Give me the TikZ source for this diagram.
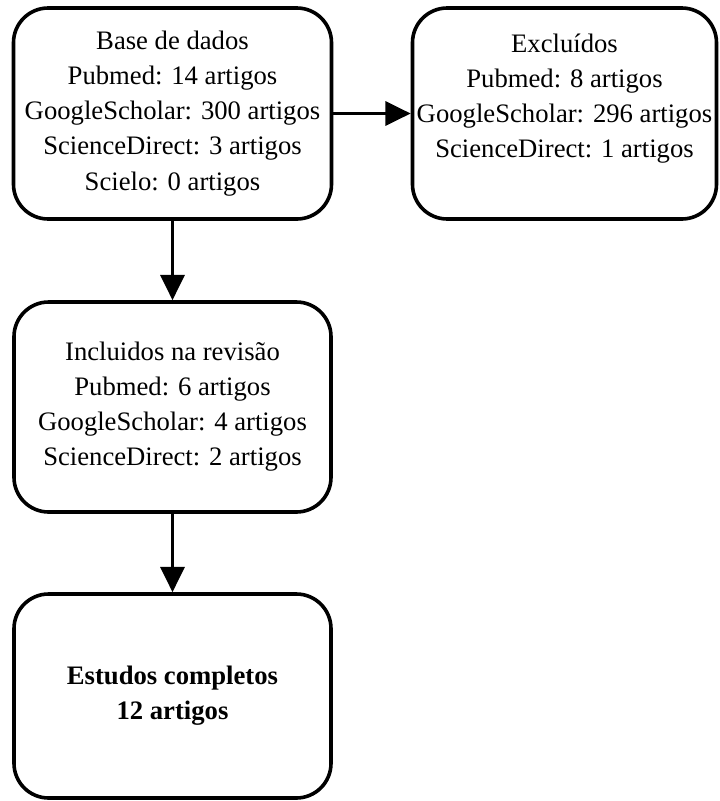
\documentclass[tikz,border=0pt]{standalone}
\usepackage{fontspec}
\setmainfont{Liberation Serif}
\usetikzlibrary{arrows.meta}

\tikzset{
  caixa/.style={draw, line width=2.7pt, rounded corners=26pt, align=center, inner sep=0pt,
    font=\fontsize{20}{26.3}\selectfont},
  seta/.style={line width=2.5pt, -{Triangle[length=19pt,width=18pt]}}
}

\begin{document}
\begin{tikzpicture}[x=0.75pt,y=0.75pt,yscale=-1,xscale=1]
\useasboundingbox (0,0) rectangle (719,801);

%Shape: Rounded Rect [id:base]
\node [caixa, minimum width=318*0.75pt, minimum height=211*0.75pt] (base) at (172.5,113.5)
  {Base de dados\\ Pubmed: 14 artigos\\ GoogleScholar: 300 artigos\\ ScienceDirect: 3 artigos\\ Scielo: 0 artigos};
%Shape: Rounded Rect [id:excl]
\node [caixa, minimum width=304*0.75pt, minimum height=211*0.75pt] (excl) at (564.5,113.5)
  {Excluídos\\ Pubmed: 8 artigos\\ GoogleScholar: 296 artigos\\ ScienceDirect: 1 artigos\\ \mbox{}};
%Shape: Rounded Rect [id:incl]
\node [caixa, minimum width=317*0.75pt, minimum height=210*0.75pt] (incl) at (172.5,407)
  {Incluidos na revisão\\ Pubmed: 6 artigos\\ GoogleScholar: 4 artigos\\ ScienceDirect: 2 artigos};
%Shape: Rounded Rect [id:estudos]
\node [caixa, minimum width=317*0.75pt, minimum height=204*0.75pt] (estudos) at (172.5,696)
  {\textbf{Estudos completos}\\ \textbf{12 artigos}};

%Shape: Arrows
\draw [seta] (base.east) -- (excl.west);
\draw [seta] (base.south) -- (incl.north);
\draw [seta] (incl.south) -- (estudos.north);

\end{tikzpicture}
\end{document}
